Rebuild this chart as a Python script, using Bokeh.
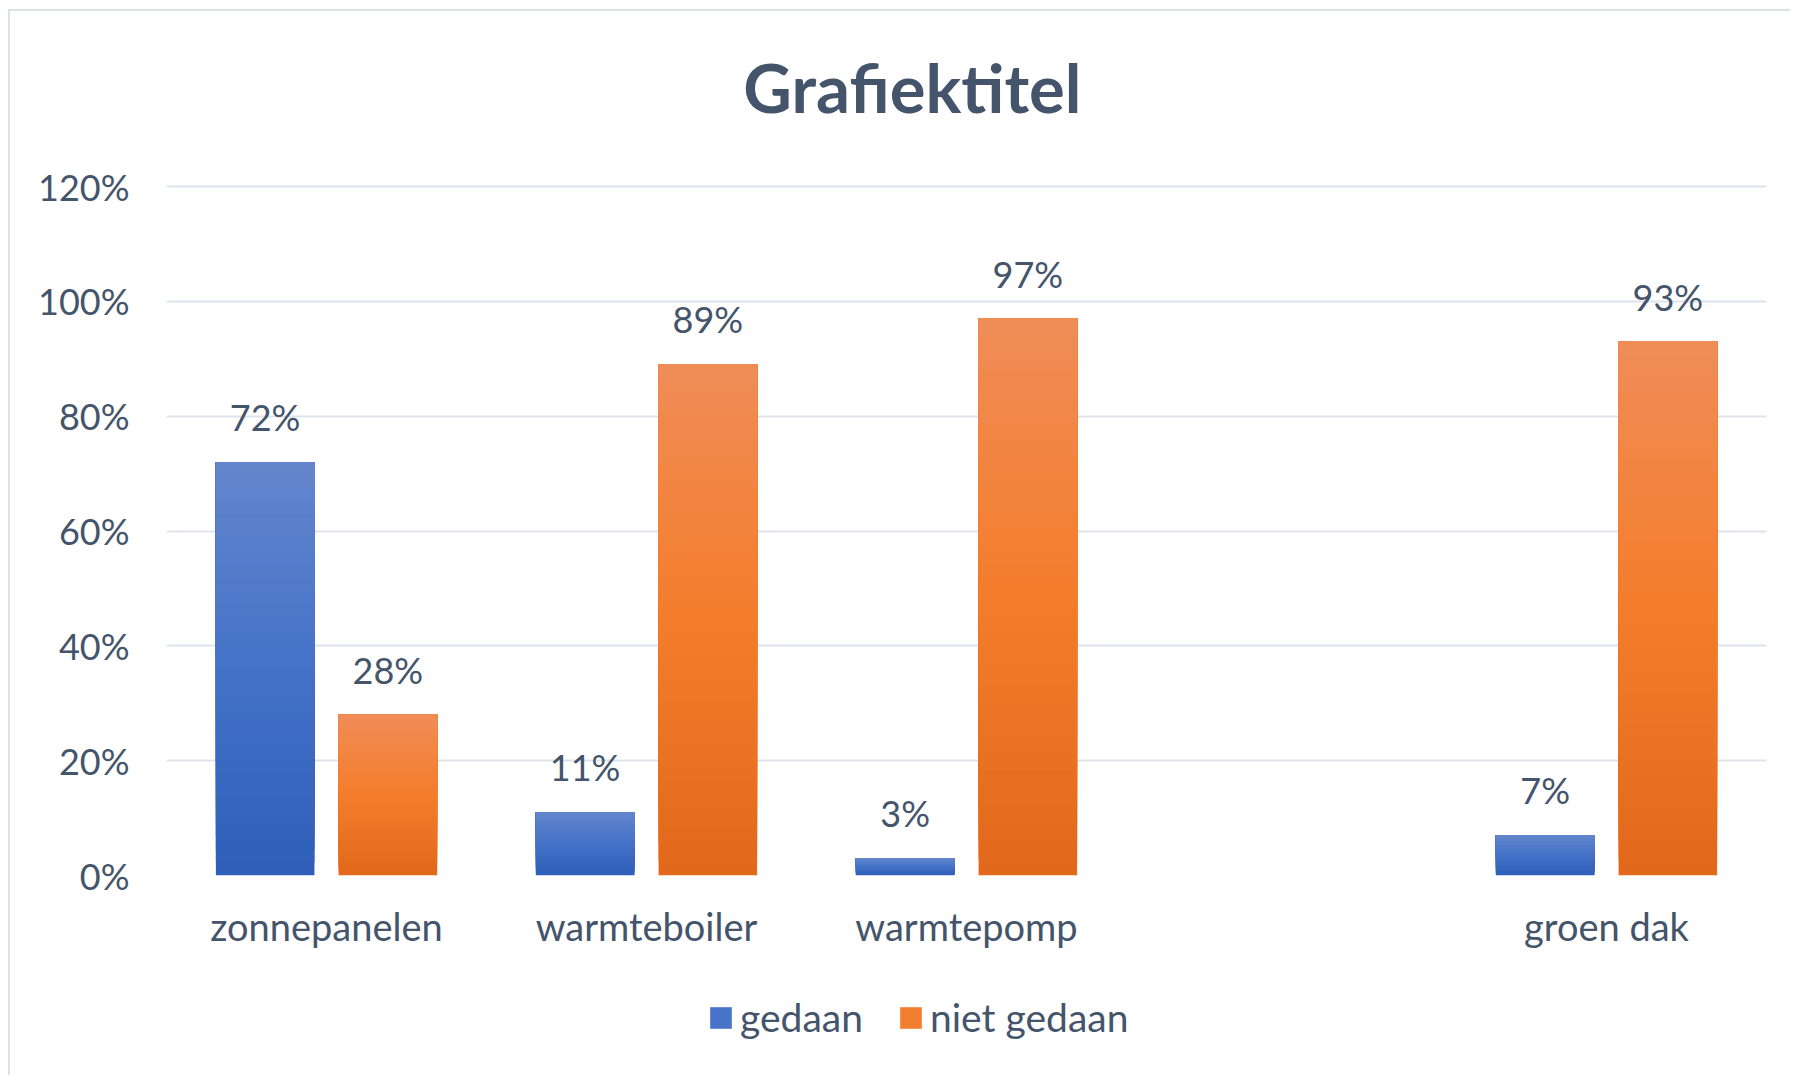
from bokeh.plotting import figure
from bokeh.layouts import column
from bokeh.models import (FactorRange, Range1d, FixedTicker, NumeralTickFormatter,
                          Legend, LegendItem, ColumnDataSource, Label)
from bokeh.transform import dodge
from bokeh.core.properties import value
from bokeh.embed import file_html
from bokeh.resources import INLINE

# ---------------- data ----------------
categories = ["zonnepanelen", "warmteboiler", "warmtepomp", "", "groen dak"]
gedaan = [0.72, 0.11, 0.03, None, 0.07]
niet_gedaan = [0.28, 0.89, 0.97, None, 0.93]
series_names = ["gedaan", "niet gedaan"]
y_ticks = [0, 0.2, 0.4, 0.6, 0.8, 1.0, 1.2]
title_text = "Grafiektitel"

# ---------------- style ----------------
FONT = "Lato"
TEXT = "#44546A"
GRID = "#DEE3EB"
EDGE = "#DCE1E8"
BLUE_STOPS = ["#2E5EB7", "#4472C9", "#6486CC"]     # bottom, middle, top
ORANGE_STOPS = ["#E1681A", "#F47D2B", "#F08C57"]
BAR_W = 0.308
OFFSETS = [-0.1917, 0.1917]

OX, OY = 10, 11                      # chart-area border offset on the page
W = 1790 - OX
H1, H2 = 965 - OY, 110
AXIS_TOP_PX, ZERO_PX = 186 - OY, 875 - OY    # rows of the 120% and 0% gridlines
Y_END = 1.2 * ZERO_PX / (ZERO_PX - AXIS_TOP_PX)   # frame reaches up to the top

p = figure(width=W, height=H1,
           x_range=FactorRange(*categories, range_padding=0),
           y_range=Range1d(0, Y_END),
           output_backend="svg", toolbar_location=None,
           min_border_left=166 - OX, min_border_right=24,
           min_border_top=0, min_border_bottom=H1 - ZERO_PX)
p.outline_line_color = None
p.background_fill_color = "white"
p.border_fill_color = "white"


def hex2rgb(h):
    h = h.lstrip("#")
    return [int(h[i:i + 2], 16) for i in (0, 2, 4)]


def grad(stops, t):
    a, b = (stops[0], stops[1]) if t < 0.5 else (stops[1], stops[2])
    tt = t / 0.5 if t < 0.5 else (t - 0.5) / 0.5
    ca, cb = hex2rgb(a), hex2rgb(b)
    c = [round(ca[k] + (cb[k] - ca[k]) * tt) for k in range(3)]
    return "#%02x%02x%02x" % tuple(c)


N = 32
for name, vals, stops, off in zip(series_names, [gedaan, niet_gedaan],
                                  [BLUE_STOPS, ORANGE_STOPS], OFFSETS):
    cats = [c for c, v in zip(categories, vals) if v is not None]
    tops = [v for v in vals if v is not None]
    for i in range(N):
        t = (i + 0.5) / N
        src = ColumnDataSource(dict(cat=cats, top=tops,
                                    bottom=[v * i / N for v in tops]))
        p.vbar(x=dodge("cat", off, range=p.x_range), top="top", bottom="bottom",
               width=BAR_W, source=src, fill_color=grad(stops, t), line_color=None)
    lsrc = ColumnDataSource(dict(cat=cats, val=tops,
                                 txt=["%d%%" % round(v * 100) for v in tops]))
    p.text(x=dodge("cat", off, range=p.x_range), y="val", text="txt", source=lsrc,
           text_font=value(FONT), text_font_size="36px", text_color=TEXT,
           text_align="center", text_baseline="alphabetic", y_offset=-45)

# title (inside the tall frame, above the 120% line)
p.add_layout(Label(x=2.331, y=1.373, text=title_text, text_font=FONT,
                   text_font_style="bold", text_font_size="67px", text_color=TEXT,
                   text_align="center", text_baseline="alphabetic"))

# axes
p.xaxis.axis_line_color = None
p.xaxis.major_tick_line_color = None
p.xaxis.minor_tick_line_color = None
p.xaxis.major_label_standoff = 21
p.xaxis.major_label_text_font = FONT
p.xaxis.major_label_text_font_size = "38px"
p.xaxis.major_label_text_color = TEXT

p.yaxis.ticker = FixedTicker(ticks=y_ticks)
p.yaxis.formatter = NumeralTickFormatter(format="0%")
p.yaxis.axis_line_color = None
p.yaxis.major_tick_line_color = None
p.yaxis.minor_tick_line_color = None
p.yaxis.major_label_standoff = 31
p.yaxis.major_label_text_font = FONT
p.yaxis.major_label_text_font_size = "36px"
p.yaxis.major_label_text_color = TEXT

p.xgrid.grid_line_color = None
p.ygrid.grid_line_color = GRID
p.ygrid.grid_line_width = 2

# legend (own strip below the chart)
q = figure(width=W, height=H2, x_range=Range1d(0, 1), y_range=Range1d(0, 1),
           output_backend="svg", toolbar_location=None,
           x_axis_location=None, y_axis_location=None,
           min_border=0, min_border_left=0, min_border_right=0,
           min_border_top=0, min_border_bottom=0)
q.outline_line_color = None
q.xgrid.visible = False
q.ygrid.visible = False
items = []
for name, stops in zip(series_names, [BLUE_STOPS, ORANGE_STOPS]):
    r = q.vbar(x=[float("nan")], top=[float("nan")], width=0.1,
               fill_color=grad(stops, 0.55), line_color=None)
    items.append(LegendItem(label=name, renderers=[r]))
legend = Legend(items=items, orientation="horizontal", location=(541, 35),
                glyph_width=27, glyph_height=27, label_standoff=6, spacing=34,
                padding=0, margin=0, border_line_color=None, background_fill_alpha=0,
                label_text_font=FONT, label_text_font_size="39px",
                label_text_color=TEXT)
q.add_layout(legend)

layout = column(p, q, spacing=0)
layout.styles = {"margin-left": "%dpx" % (OX - 2), "margin-top": "%dpx" % (OY - 2),
                 "border-left": "2px solid " + EDGE, "border-top": "2px solid " + EDGE}
open("out.html", "w").write(file_html(layout, INLINE))
